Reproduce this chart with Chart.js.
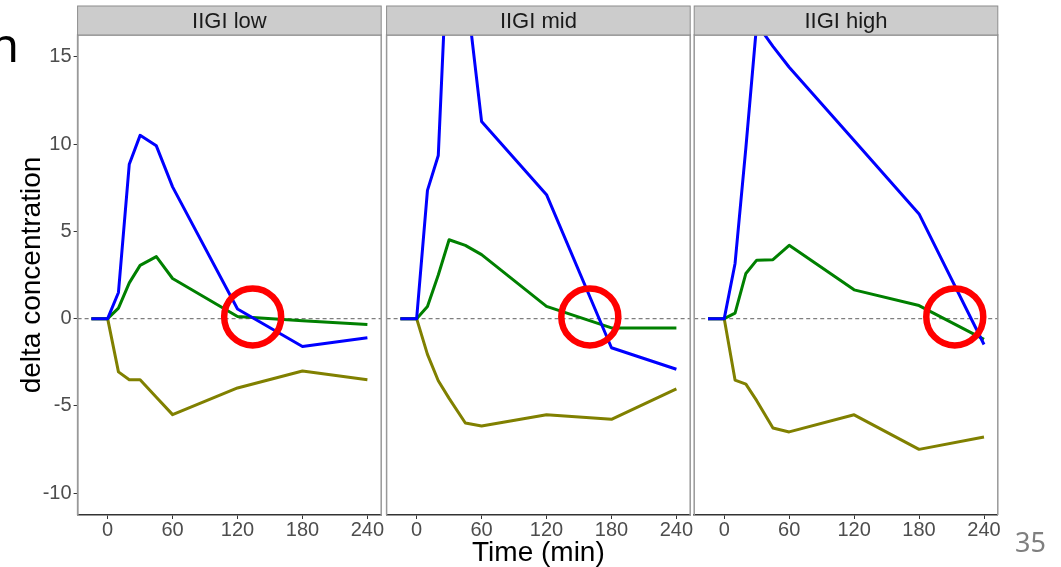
<!DOCTYPE html>
<html>
<head>
<meta charset="utf-8">
<script src="https://cdn.jsdelivr.net/npm/chart.js@4.4.0/dist/chart.umd.min.js"></script>
<style>
  html, body { margin: 0; padding: 0; background: #fff; }
  #page { position: relative; width: 1061px; height: 567px; overflow: hidden; }
  #page canvas { position: absolute; left: 0; top: 0; }
  .slide-text { position: absolute; font-family: "Noto Sans", sans-serif; white-space: nowrap; }
  #titleTail { left: -10px; top: 21px; font-size: 47px; line-height: 47px; color: #000; }
  #pageNo { left: 1015px; top: 528px; font-size: 27px; line-height: 27px; color: #7f7f7f; }
</style>
</head>
<body>
<div id="page">
  <canvas id="panelLow" width="1061" height="567"></canvas>
  <canvas id="panelMid" width="1061" height="567"></canvas>
  <canvas id="panelHigh" width="1061" height="567"></canvas>
  <div class="slide-text" id="titleTail">n</div>
  <div class="slide-text" id="pageNo">35</div>
</div>
<script>
// sampling times (min)
const times = [-15, 0, 10, 20, 30, 45, 60, 120, 180, 240];
const timeTicks = [0, 60, 120, 180, 240];
const valueTicks = [-10, -5, 0, 5, 10, 15];
const panelNames = ['IIGI low', 'IIGI mid', 'IIGI high'];

// delta concentration per facet
const blueLow   = [0, 0, 1.5, 8.85, 10.5, 9.9, 7.55, 0.55, -1.6, -1.1];
const greenLow  = [0, 0, 0.6, 2.05, 3.05, 3.55, 2.3, 0.12, -0.12, -0.34];
const oliveLow  = [0, 0, -3.05, -3.5, -3.5, -4.5, -5.5, -3.97, -3.0, -3.5];

const blueMid   = [0, 0, 7.35, 9.35, 23.3, 19.3, 11.3, 7.1, -1.67, -2.9];
const greenMid  = [0, 0, 0.7, 2.5, 4.52, 4.2, 3.67, 0.7, -0.53, -0.53];
const oliveMid  = [0, 0, -2.05, -3.56, -4.57, -5.98, -6.15, -5.51, -5.77, -4.03];

const blueHigh  = [0, 0, 3.16, 9.8, 16.9, 15.6, 14.4, 10.2, 6.0, -1.48];
const greenHigh = [0, 0, 0.32, 2.59, 3.35, 3.38, 4.2, 1.65, 0.75, -1.19];
const oliveHigh = [0, 0, -3.52, -3.75, -4.7, -6.27, -6.49, -5.51, -7.49, -6.78];

// red circles marking the zero crossing
const circleTimes = [134, 160, 213];
const circleLevels = [0.1, 0.1, 0.1];

const FONT = '"Liberation Sans", Arial, sans-serif';
const PANEL_W = 303.6;
const panelLefts = [77.6, 386.6, 694.2];

Chart.defaults.font.family = FONT;

const facetDecor = {
    id: 'facetDecor',
    beforeDatasetsDraw(chart) {
        const { ctx, chartArea: a, scales: { y } } = chart;
        const y0 = y.getPixelForValue(0);
        ctx.save();
        ctx.strokeStyle = '#7f7f7f';
        ctx.lineWidth = 1.3;
        ctx.setLineDash([4, 3]);
        ctx.beginPath();
        ctx.moveTo(a.left, y0);
        ctx.lineTo(a.right, y0);
        ctx.stroke();
        ctx.restore();
    },
    afterDraw(chart, args, opts) {
        const { ctx, chartArea: a } = chart;
        ctx.save();
        // panel frame (bottom edge is the x axis line)
        ctx.strokeStyle = '#999';
        ctx.lineWidth = 1.5;
        ctx.beginPath();
        ctx.moveTo(a.left, a.bottom);
        ctx.lineTo(a.left, a.top);
        ctx.lineTo(a.right, a.top);
        ctx.lineTo(a.right, a.bottom);
        ctx.stroke();
        // strip
        const top = 6;
        ctx.fillStyle = '#cccccc';
        ctx.fillRect(a.left, top, a.width, a.top - top);
        ctx.strokeStyle = '#8c8c8c';
        ctx.lineWidth = 1;
        ctx.strokeRect(a.left, top, a.width, a.top - top);
        ctx.fillStyle = '#1a1a1a';
        ctx.font = '22px ' + FONT;
        ctx.textAlign = 'center';
        ctx.textBaseline = 'middle';
        ctx.fillText(opts.label, (a.left + a.right) / 2, (top + a.top) / 2 + 1);
        ctx.restore();
    }
};

function toPoints(values) {
    return values.map((v, i) => ({ x: times[i], y: v }));
}

function makePanel(canvasId, idx, blue, green, olive) {
    const left = panelLefts[idx];
    const isFirst = idx === 0;
    const isMiddle = idx === 1;

    const lineStyle = color => ({
        borderColor: color,
        borderWidth: 3,
        pointRadius: 0,
        tension: 0,
        borderJoinStyle: 'round',
        fill: false
    });

    const yAxis = {
        display: isFirst,
        min: -11.25,
        max: 16.25,
        afterBuildTicks: s => { s.ticks = valueTicks.map(v => ({ value: v })); },
        ticks: {
            color: '#4d4d4d',
            font: { size: 20 },
            padding: 2,
            callback: v => String(v)
        },
        grid: { drawOnChartArea: false, tickLength: 4, tickColor: '#333', tickWidth: 1 },
        border: { display: true, color: '#999', width: 1.5 },
        title: {
            display: isFirst,
            text: 'delta concentration',
            color: '#000',
            font: { size: 28 },
            padding: { top: 15, bottom: 0 }
        }
    };
    if (isFirst) {
        yAxis.afterFit = s => { s.width = left; };
    }

    return new Chart(document.getElementById(canvasId), {
        type: 'line',
        data: {
            datasets: [
                {
                    data: [{ x: circleTimes[idx], y: circleLevels[idx] }],
                    showLine: false,
                    pointRadius: 28.5,
                    pointBorderWidth: 6.5,
                    pointBorderColor: '#ff0000',
                    pointBackgroundColor: 'rgba(0,0,0,0)'
                },
                { data: toPoints(blue), ...lineStyle('#0000ff') },
                { data: toPoints(green), ...lineStyle('#008000') },
                { data: toPoints(olive), ...lineStyle('#808000') }
            ]
        },
        options: {
            responsive: false,
            animation: false,
            events: [],
            layout: {
                padding: {
                    left: isFirst ? 0 : left,
                    right: 1061 - (left + PANEL_W),
                    top: 32,
                    bottom: 0
                }
            },
            plugins: {
                legend: { display: false },
                tooltip: { enabled: false },
                facetDecor: { label: panelNames[idx] }
            },
            scales: {
                x: {
                    type: 'linear',
                    min: -27.75,
                    max: 252.75,
                    afterBuildTicks: s => { s.ticks = timeTicks.map(v => ({ value: v })); },
                    afterFit: s => { s.height = 52; },
                    ticks: {
                        color: '#4d4d4d',
                        font: { size: 20 },
                        padding: -1,
                        maxRotation: 0,
                        callback: v => String(v)
                    },
                    grid: { drawOnChartArea: false, tickLength: 4, tickColor: '#333', tickWidth: 1 },
                    border: { display: true, color: '#333', width: 1.5 },
                    title: {
                        display: isMiddle,
                        text: 'Time (min)',
                        color: '#000',
                        font: { size: 28, lineHeight: 1 },
                        padding: { top: 0, bottom: 0 }
                    }
                },
                y: yAxis
            }
        },
        plugins: [facetDecor]
    });
}

makePanel('panelLow', 0, blueLow, greenLow, oliveLow);
makePanel('panelMid', 1, blueMid, greenMid, oliveMid);
makePanel('panelHigh', 2, blueHigh, greenHigh, oliveHigh);
</script>
</body>
</html>
